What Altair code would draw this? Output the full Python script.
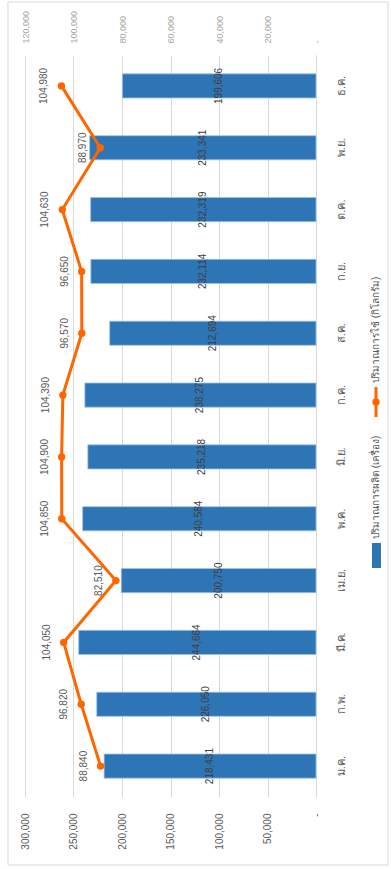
import altair as alt
import pandas as pd

# Monthly production (units) and usage (kg)
months = ["ม.ค.", "ก.พ.", "มี.ค.", "เม.ย.", "พ.ค.", "มิ.ย.",
          "ก.ค.", "ส.ค.", "ก.ย.", "ต.ค.", "พ.ย.", "ธ.ค."]
production = [218431, 226050, 244664, 200750, 240584, 235218,
              238275, 212694, 232114, 232319, 233341, 199606]
usage = [88840, 96820, 104050, 82510, 104850, 104900,
         104390, 96570, 96650, 104630, 88970, 104980]

prod_name = "ปริมาณการผลิต (เครื่อง)"
use_name = "ปริมาณการใช้ (กิโลกรัม)"

df = pd.DataFrame({"month": months, "production": production, "usage": usage})
df["half"] = df["production"] / 2

FONT = "Liberation Sans"
BLUE = "#2E75B6"
ORANGE = "#FF6600"

W, H = 291, 742
month_order = list(reversed(months))
yband = alt.Y("month:N", sort=month_order,
              scale=alt.Scale(paddingInner=0.61, paddingOuter=0.305))
yband_axis = alt.Y("month:N", sort=month_order,
                   scale=alt.Scale(paddingInner=0.61, paddingOuter=0.305),
                   axis=alt.Axis(orient="right", title=None, labelAngle=270,
                                 labelAlign="center", labelBaseline="top",
                                 labelPadding=19, ticks=False, domain=True,
                                 domainColor="#d9d9d9", grid=False,
                                 labelColor="#595959", labelFontSize=11,
                                 labelFont=FONT))

prod_scale = alt.Scale(domain=[0, 300000], reverse=True, nice=False)
use_scale = alt.Scale(domain=[0, 120000], reverse=True, nice=False)

base = alt.Chart(df)

bars = base.mark_bar(color=BLUE, stroke="#9dc3e6", strokeWidth=0.8).encode(
    x=alt.X("production:Q", scale=prod_scale,
            axis=alt.Axis(orient="bottom", title=None,
                          values=[0, 50000, 100000, 150000, 200000, 250000, 300000],
                          labelExpr="datum.value == 0 ? '-' : format(datum.value, ',')",
                          labelAngle=270, labelAlign="right", labelBaseline="middle",
                          labelPadding=16, ticks=False, domain=False,
                          grid=True, gridColor="#d9d9d9", labelColor="#595959",
                          labelFontSize=10, labelFont=FONT, labelFlush=False,
                          labelOverlap=False)),
    y=yband_axis,
)

bar_text = base.mark_text(angle=270, align="center", baseline="middle",
                          fontSize=10, font=FONT, color="#404040").encode(
    x=alt.X("half:Q", scale=prod_scale, axis=None),
    y=yband,
    text=alt.Text("production:Q", format=","),
)

line = base.mark_line(color=ORANGE, strokeWidth=3).encode(
    x=alt.X("usage:Q", scale=use_scale,
            axis=alt.Axis(orient="top", title=None,
                          values=[0, 20000, 40000, 60000, 80000, 100000, 120000],
                          labelExpr="datum.value == 0 ? '-' : format(datum.value, ',')",
                          labelAngle=270, labelAlign="left", labelBaseline="middle",
                          labelPadding=12, ticks=False, domain=False, grid=False,
                          labelColor="#a6a6a6", labelFontSize=9, labelFont=FONT,
                          labelFlush=False, labelOverlap=False)),
    y=yband,
    order=alt.Order("order:Q"),
).transform_window(order="row_number()")

points = base.mark_point(filled=True, color=ORANGE, size=55, opacity=1).encode(
    x=alt.X("usage:Q", scale=use_scale, axis=None),
    y=yband,
)

use_text = base.mark_text(angle=270, align="center", baseline="bottom", dy=-12,
                          fontSize=10, font=FONT, color="#595959").encode(
    x=alt.X("usage:Q", scale=use_scale, axis=None),
    y=yband,
    text=alt.Text("usage:Q", format=","),
)

# Legend and outer frame, placed in plot-area pixels
one = alt.Chart(pd.DataFrame({"k": [0]}))
frame = one.mark_rect(fill=None, stroke="#d9d9d9", strokeWidth=1).encode(
    x=alt.value(-17), x2=alt.value(363), y=alt.value(-53), y2=alt.value(810))
leg_box = one.mark_rect(color=BLUE).encode(
    x=alt.value(347), x2=alt.value(356), y=alt.value(488), y2=alt.value(513))
leg_prod = one.mark_text(angle=270, align="left", baseline="middle",
                         fontSize=10, font=FONT, color="#595959").encode(
    x=alt.value(351), y=alt.value(484), text=alt.value(prod_name))
leg_rule = one.mark_rule(color=ORANGE, strokeWidth=3).encode(
    x=alt.value(351), y=alt.value(332), y2=alt.value(362))
leg_dot = one.mark_point(filled=True, color=ORANGE, size=55, opacity=1).encode(
    x=alt.value(351), y=alt.value(347))
leg_use = one.mark_text(angle=270, align="left", baseline="middle",
                        fontSize=10, font=FONT, color="#595959").encode(
    x=alt.value(351), y=alt.value(328), text=alt.value(use_name))

chart = alt.layer(
    bars, bar_text, line, points, use_text,
    frame, leg_box, leg_prod, leg_rule, leg_dot, leg_use,
).resolve_scale(x="independent").properties(
    width=W, height=H,
    autosize=alt.AutoSizeParams(type="none"),
    padding={"left": 25, "top": 55, "right": 75, "bottom": 72},
    background="white",
).configure_view(stroke=None)

chart.save("out.html", embed_options={"renderer": "svg", "actions": False})
